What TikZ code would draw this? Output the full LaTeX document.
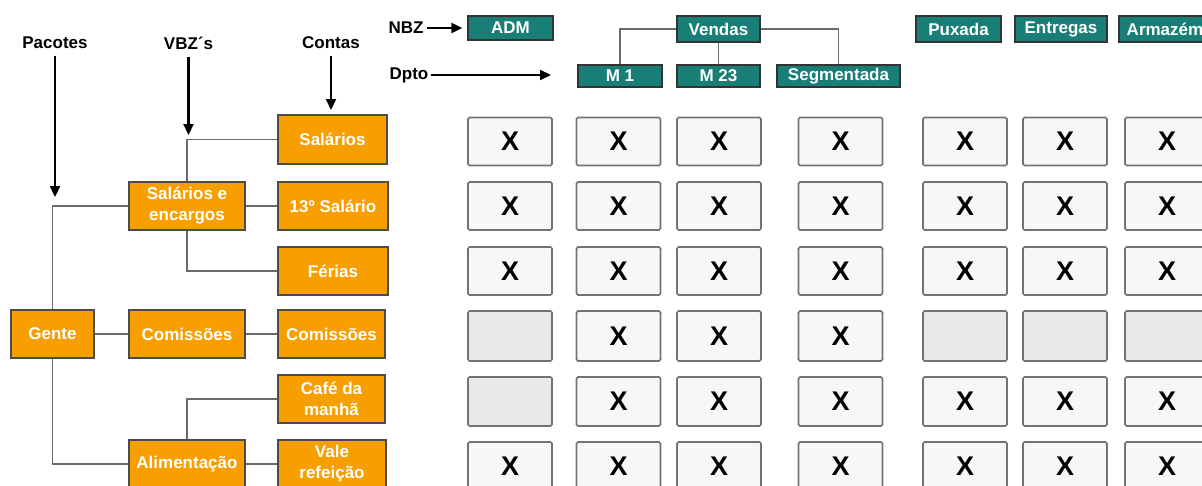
\documentclass[tikz,border=0pt]{standalone}
\usepackage{fontspec}
\setmainfont{Liberation Sans}
\usetikzlibrary{arrows.meta}
\definecolor{orangeC}{RGB}{247,158,0}
\definecolor{tealC}{RGB}{24,126,118}
\definecolor{cellC}{RGB}{247,247,247}
\definecolor{emptyC}{RGB}{233,233,233}
\begin{document}
\begin{tikzpicture}[x=1pt,y=-1pt,
  obox/.style={draw=black!70, fill=orangeC, text=white, line width=1.4pt,
    font=\fontsize{17}{21}\selectfont\bfseries, inner sep=0pt, align=center,
    minimum width=110, minimum height=48},
  tbox/.style={draw=black!80, fill=tealC, text=white, line width=1.4pt,
    font=\fontsize{17}{19}\selectfont\bfseries, inner sep=0pt,
    minimum height=24},
  lbl/.style={font=\fontsize{17}{19}\selectfont\bfseries, inner sep=1pt},
  conn/.style={draw=black!58, line width=1.8pt},
  arr/.style={draw=black, line width=2.2pt, -{Triangle[width=10pt,length=11pt]}},
  cellbase/.style={draw=black!55, line width=1.7pt, rounded corners=1.5pt,
    minimum width=84, minimum height=48, inner sep=0pt,
    font=\fontsize{27}{29}\selectfont\bfseries},
  xbox/.style={cellbase, fill=cellC},
  ebox/.style={cellbase, fill=emptyC}
]
\useasboundingbox (0,0) rectangle (1202,485);
\clip (0,0) rectangle (1202,485);
\fill[white] (0,0) rectangle (1202,485);

% top-left labels
\node[lbl] (pac) at (55,43) {Pacotes};
\node[lbl] (vbz) at (188.5,43) {VBZ´s};
\node[lbl] (con) at (331,43) {Contas};
\coordinate (pacTip) at (55,197);
\coordinate (vbzTip) at (188.5,135);
\coordinate (conTip) at (331,110);
\draw[arr, shorten <=6pt] (pac.south) -- (pacTip);
\draw[arr, shorten <=6pt] (vbz.south) -- (vbzTip);
\draw[arr, shorten <=6pt] (con.south) -- (conTip);

% orange tree
\node[obox, minimum width=109, minimum height=49] (sal) at (332.5,139.5) {Salários};
\node[obox, minimum width=116] (se) at (187,206) {Salários e\\encargos};
\node[obox] (s13) at (333,206) {13º Salário};
\node[obox] (fer) at (333,271) {Férias};
\node[obox, minimum width=83] (gente) at (52.5,334) {Gente};
\node[obox, minimum width=116] (com1) at (187,334) {Comissões};
\node[obox, minimum width=107] (com2) at (331.5,334) {Comissões};
\node[obox, minimum width=107] (cafe) at (331.5,399) {Café da\\manhã};
\node[obox, minimum width=116] (alim) at (187,464) {Alimentação};
\node[obox, minimum width=108] (vale) at (332,464) {Vale\\refeição};

\draw[conn] (sal.west) -| (se.north);
\draw[conn] (se.east) -- (s13.west);
\draw[conn] (se.south) |- (fer.west);
\draw[conn] (se.west) -| (gente.north);
\draw[conn] (gente.east) -- (com1.west);
\draw[conn] (com1.east) -- (com2.west);
\draw[conn] (gente.south) |- (alim.west);
\draw[conn] (alim.north) |- (cafe.west);
\draw[conn] (alim.east) -- (vale.west);

% NBZ / Dpto
\node[lbl] (nbz) at (406,28) {NBZ};
\node[lbl] (dpto) at (409,75) {Dpto};
\coordinate (dptoTip) at (551,75);

% teal boxes
\node[tbox, minimum width=85, minimum height=24] (adm) at (510.5,28) {ADM};
\node[tbox, minimum width=83, minimum height=26] (vendas) at (718.5,29) {Vendas};
\node[tbox, minimum width=84, minimum height=22] (m1) at (620,76) {M 1};
\node[tbox, minimum width=83, minimum height=22] (m23) at (718.5,76) {M 23};
\node[tbox, minimum width=123, minimum height=22] (seg) at (838.5,76) {Segmentada};
\node[tbox, minimum width=85, minimum height=26] (pux) at (958.5,29) {Puxada};
\node[tbox, minimum width=92, minimum height=26] (ent) at (1061,29) {Entregas};
\node[tbox, minimum width=92, minimum height=26] (arm) at (1165,29) {Armazém};

\draw[arr, shorten <=2pt, shorten >=5pt] (nbz.east) -- (adm.west);
\draw[arr, shorten <=1pt] (dpto.east) -- (dptoTip);
\draw[conn] (vendas.west) -| (m1.north);
\draw[conn] (vendas.south) -- (m23.north);
\draw[conn] (vendas.east) -| (seg.north);

% grid
\foreach \c/\x in {1/510,2/618.5,3/719,4/840.5,5/965,6/1065,7/1167} {
  \node[xbox] (ra\c) at (\x,141.5) {X};
  \node[xbox] (rb\c) at (\x,206) {X};
  \node[xbox] (rc\c) at (\x,271) {X};
  \node[xbox] (rf\c) at (\x,466) {X};
}
\foreach \c/\x in {1/510,5/965,6/1065,7/1167} {
  \node[ebox, minimum height=50] (rd\c) at (\x,336) {};
}
\foreach \c/\x in {2/618.5,3/719,4/840.5} {
  \node[xbox, minimum height=50] (rd\c) at (\x,336) {X};
}
\node[ebox, minimum height=49] (re1) at (510,401.5) {};
\foreach \c/\x in {2/618.5,3/719,4/840.5,5/965,6/1065,7/1167} {
  \node[xbox, minimum height=49] (re\c) at (\x,401.5) {X};
}
\end{tikzpicture}
\end{document}
